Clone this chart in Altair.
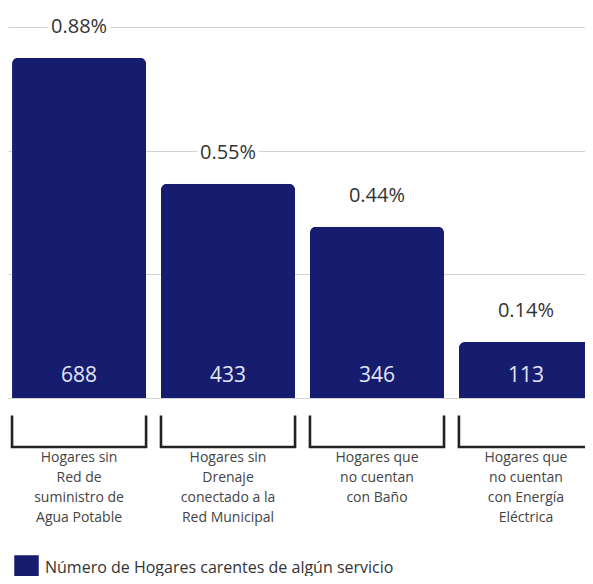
import altair as alt
import pandas as pd

# ---- data ----
categories = [
    "Hogares sin Red de suministro de Agua Potable",
    "Hogares sin Drenaje conectado a la Red Municipal",
    "Hogares que no cuentan con Baño",
    "Hogares que no cuentan con Energía Eléctrica",
]
label_lines = [
    ["Hogares sin", "Red de", "suministro de", "Agua  Potable"],
    ["Hogares sin", "Drenaje", "conectado a la", "Red Municipal"],
    ["Hogares que", "no cuentan", "con Baño"],
    ["Hogares que", "no cuentan", "con Energía", "Eléctrica"],
]
households = [688, 433, 346, 113]
percent_labels = ["0.88%", "0.55%", "0.44%", "0.14%"]
series_name = "Número de Hogares carentes de algún servicio"
grid_values = [0, 250, 500, 750]

df = pd.DataFrame({
    "cat": categories,
    "label": ["\n".join(l) for l in label_lines],
    "value": households,
    "pct": percent_labels,
    "series": [series_name] * len(categories),
})

# ---- layout ----
W, H = 589, 371
YMAX = 750
U = YMAX / H  # data units per pixel
FONT = "Open Sans"
BAR_COLOR = "#161d6f"

xenc = alt.X("cat:N", sort=categories, axis=None,
             scale=alt.Scale(paddingInner=0.1, paddingOuter=0.027))
yscale = alt.Scale(domain=[0, YMAX], nice=False, zero=True)

base = alt.Chart(df)

bars = base.mark_bar(cornerRadiusTopLeft=6, cornerRadiusTopRight=6).encode(
    x=xenc,
    y=alt.Y("value:Q", scale=yscale,
            axis=alt.Axis(values=grid_values, grid=True, gridColor="#d2d2d2",
                          gridWidth=1.2, labels=False, ticks=False,
                          domain=False, title=None)),
    color=alt.Color("series:N", scale=alt.Scale(range=[BAR_COLOR]),
                    legend=alt.Legend(orient="none", legendX=6, legendY=528,
                                      title=None, symbolType="square",
                                      symbolSize=600, symbolStrokeWidth=0,
                                      symbolOpacity=1, labelLimit=600,
                                      labelFontSize=16, labelFont=FONT,
                                      labelColor="#333333", labelOffset=6)),
)

values_txt = base.mark_text(dy=-22, fontSize=21, font=FONT, color="#e2e5f5",
                            baseline="middle").encode(
    x=xenc, y=alt.datum(0), text=alt.Text("value:Q"))

pct_halo = base.mark_text(dy=-31, fontSize=20, font=FONT, fill="white",
                          stroke="white", strokeWidth=8,
                          baseline="middle").encode(
    x=xenc, y=alt.Y("value:Q"), text="pct:N")

pct_txt = base.mark_text(dy=-31, fontSize=20, font=FONT, color="#333333",
                         baseline="middle").encode(
    x=xenc, y=alt.Y("value:Q"), text="pct:N")

bracket = base.mark_bar(fill="white", stroke="#222222", strokeWidth=2.6,
                        cornerRadius=0).encode(
    x=xenc, y=alt.datum(-8 * U), y2=alt.datum(-49 * U))

bracket_cover = base.mark_bar(fill="white", stroke="white", strokeWidth=5,
                              cornerRadius=0).encode(
    x=xenc, y=alt.datum(-4 * U), y2=alt.datum(-15 * U))

cat_txt = base.mark_text(lineBreak="\n", lineHeight=20, baseline="top",
                         fontSize=14, font=FONT, color="#444444").encode(
    x=xenc, y=alt.datum(-53 * U), text="label:N")

chart = alt.layer(
    bars, values_txt, pct_halo, pct_txt, bracket, bracket_cover, cat_txt
).properties(
    width=W, height=H,
    autosize=alt.AutoSizeParams(type="none"),
    padding={"left": 0, "right": -12, "top": 19, "bottom": 178},
    background="white",
).configure_view(stroke=None)

chart.save("out.html", embed_options={"renderer": "svg", "actions": False})
